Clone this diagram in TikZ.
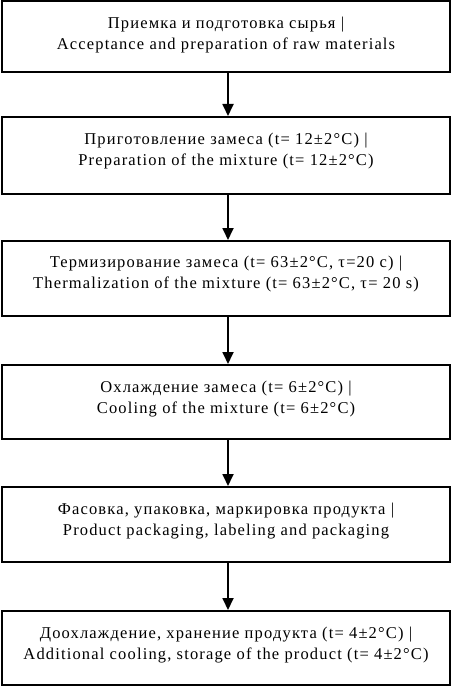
\documentclass[tikz,border=0pt]{standalone}
\usepackage{fontspec}
\setmainfont{Liberation Serif}[LetterSpace=7]
\usetikzlibrary{arrows.meta,calc}
\newcommand{\tstrut}{\rule{0pt}{12pt}}
\begin{document}
\begin{tikzpicture}[x=1pt,y=-1pt,
  box/.style={draw,line width=2pt,minimum width=448pt,inner sep=0pt},
  txt/.style={align=center,font=\fontsize{16.5}{21.5}\selectfont,anchor=north,inner sep=0pt},
  arr/.style={line width=1.8pt,-{Triangle[length=12pt,width=11pt]}}]
\useasboundingbox (0,0) rectangle (452,687);
\node[box,minimum height=71pt] (b1) at (226,36.5) {};
\node[box,minimum height=77pt] (b2) at (226,155.5) {};
\node[box,minimum height=75pt] (b3) at (226,278.5) {};
\node[box,minimum height=74pt] (b4) at (226,402) {};
\node[box,minimum height=75pt] (b5) at (226,524.5) {};
\node[box,minimum height=74pt] (b6) at (226,648) {};
\node[txt] (t1) at ($(b1.north)+(0,16)$) {\tstrut Приемка и подготовка сырья |\\Acceptance and preparation of raw materials};
\node[txt] (t2) at ($(b2.north)+(0,16)$) {\tstrut Приготовление замеса (t= 12±2°C) |\\Preparation of the mixture (t= 12±2°C)};
\node[txt] (t3) at ($(b3.north)+(0,15)$) {\tstrut Термизирование замеса (t= 63±2°C, τ=20 с) |\\Thermalization of the mixture (t= 63±2°C, τ= 20 s)};
\node[txt] (t4) at ($(b4.north)+(0,16)$) {\tstrut Охлаждение замеса (t= 6±2°C) |\\Cooling of the mixture (t= 6±2°C)};
\node[txt] (t5) at ($(b5.north)+(0,16)$) {\tstrut Фасовка, упаковка, маркировка продукта |\\Product packaging, labeling and packaging};
\node[txt] (t6) at ($(b6.north)+(0,16)$) {\tstrut Доохлаждение, хранение продукта (t= 4±2°C) |\\Additional cooling, storage of the product (t= 4±2°C)};
\foreach \a/\b in {b1/b2,b2/b3,b3/b4,b4/b5,b5/b6}
  \draw[arr] ($(\a.south)+(2,0)$) -- ($(\b.north)+(2,0)$);
\end{tikzpicture}
\end{document}
